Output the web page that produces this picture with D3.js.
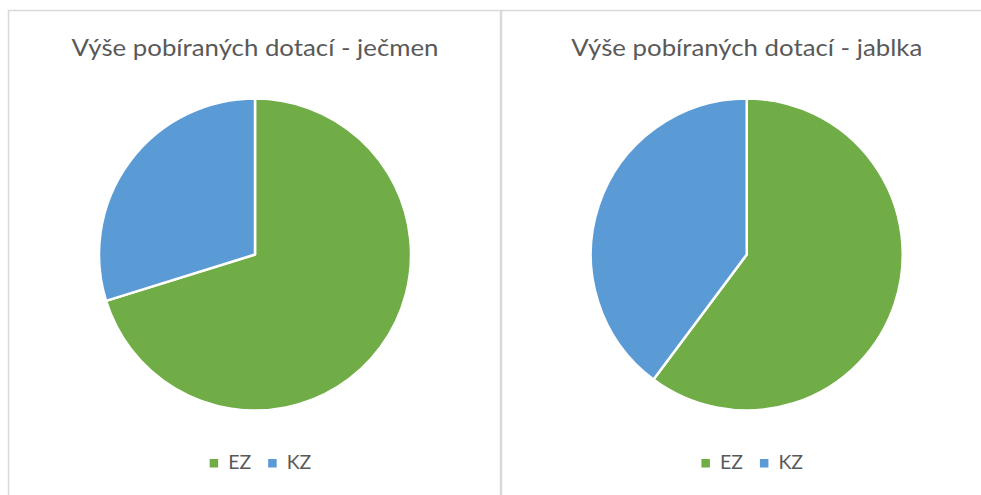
<!DOCTYPE html>
<html><head><meta charset="utf-8">
<script src="https://cdn.jsdelivr.net/npm/d3@7"></script>
<style>body{margin:0;background:#fff;overflow:hidden}</style></head>
<body><svg id="c" width="981" height="495"></svg>
<script>
const categories = ["EZ", "KZ"];
const titles = ["Výše pobíraných dotací - ječmen", "Výše pobíraných dotací - jablka"];
const jecmenValues = [70.2, 29.8];
const jablkaValues = [60.2, 39.8];
const seriesList = [jecmenValues, jablkaValues];
const colors = ["#70AD47", "#5B9BD5"];

const svg = d3.select("#c");
const panels = [{x0: 8.5, x1: 500.5, tw: 367}, {x0: 501.5, x1: 991, tw: 351}];
const cy = 254.5, R = 156;
const fontFam = "Lato, 'Open Sans', sans-serif";
const titleSize = 23.5;

const color = d3.scaleOrdinal().domain(categories).range(colors);
const pie = d3.pie().sort(null).value(d => d.v);
const arc = d3.arc().innerRadius(0).outerRadius(R);

panels.forEach((p, i) => {
  const g = svg.append("g");
  g.append("rect").attr("x", p.x0).attr("y", 10.5).attr("width", p.x1 - p.x0).attr("height", 500)
    .attr("fill", "#fff").attr("stroke", "#d9d9d9").attr("stroke-width", 1.5);
  const cx = (p.x0 + p.x1) / 2 + 0.5;
  g.append("text").attr("x", cx).attr("y", 55.5).attr("text-anchor", "middle")
    .attr("font-family", fontFam).attr("font-size", titleSize).attr("fill", "#595959")
    .attr("textLength", p.tw).attr("lengthAdjust", "spacingAndGlyphs")
    .text(titles[i]);
  const data = categories.map((c, k) => ({c, v: seriesList[i][k]}));
  g.append("g").attr("transform", `translate(${cx},${cy})`)
    .selectAll("path").data(pie(data)).join("path")
    .attr("d", arc).attr("fill", d => color(d.data.c))
    .attr("stroke", "#fff").attr("stroke-width", 2.5).attr("stroke-linejoin", "round");

  // legend
  const lg = g.append("g");
  let x = 0;
  categories.forEach((c, k) => {
    lg.append("rect").attr("x", x).attr("y", 459).attr("width", 8.5).attr("height", 8.5).attr("fill", color(c));
    x += 18.5;
    const t = lg.append("text").attr("x", x).attr("y", 469).attr("font-family", fontFam)
      .attr("font-size", 19.5).attr("fill", "#595959").text(c);
    x += t.node().getComputedTextLength();
    if (k < categories.length - 1) x += 17;
  });
  lg.attr("transform", `translate(${cx + 5.5 - x / 2},0)`);
});
</script></body></html>
